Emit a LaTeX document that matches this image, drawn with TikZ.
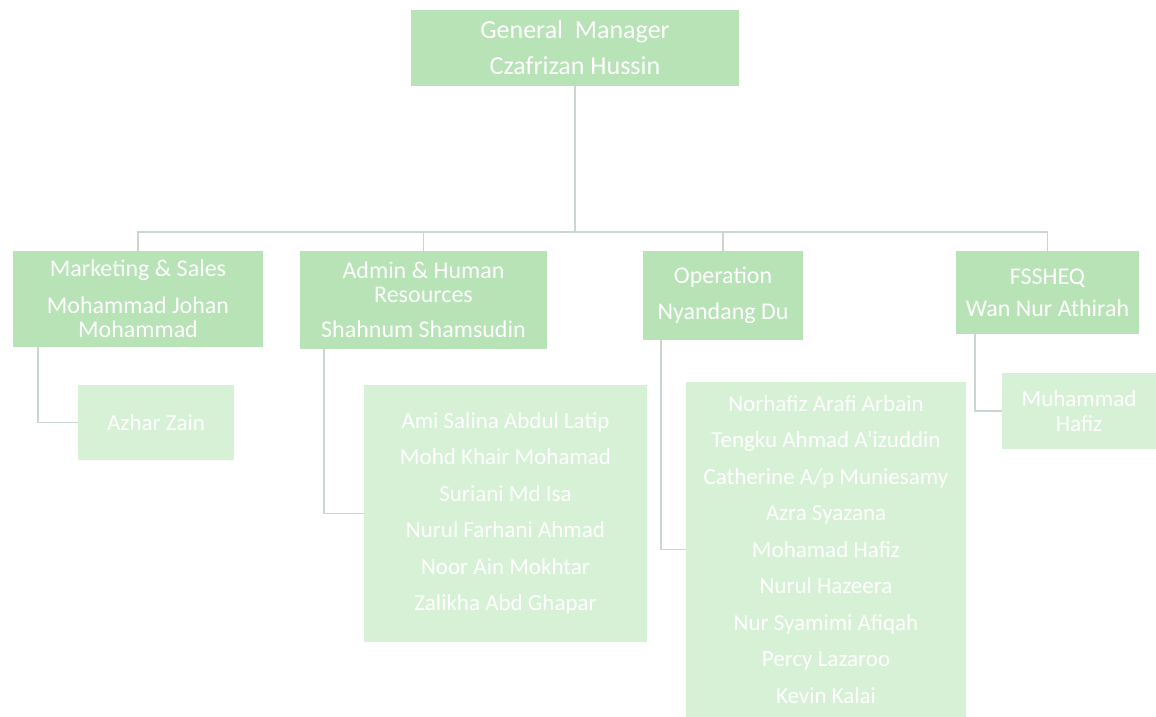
\documentclass[tikz,border=0pt]{standalone}
\usepackage{fontspec}
\setmainfont{Carlito}
\definecolor{topfill}{HTML}{B7E3B7}
\definecolor{stafffill}{HTML}{D6F1D6}
\definecolor{linkc}{HTML}{C9D7CE}
\begin{document}
\begin{tikzpicture}[x=1pt,y=-1pt,
  box/.style={draw=none, fill=topfill, text=white, inner sep=0pt, align=center,
    font=\fontsize{24}{24}\selectfont},
  staff/.style={box, fill=stafffill, font=\fontsize{23}{36.5}\selectfont},
  link/.style={draw=linkc, line width=1.2pt}]
\useasboundingbox (0,0) rectangle (1156,717);
\fill[white] (0,0) rectangle (1156,717);

\node[box, minimum width=328, minimum height=76, font=\fontsize{26}{26}\selectfont] (gm) at (575,48)
  {General~ Manager\\[10pt]Czafrizan Hussin};
\node[box, minimum width=250, minimum height=96] (mkt) at (138,299)
  {Marketing \& Sales\\[13pt]Mohammad Johan\\Mohammad};
\node[box, minimum width=247, minimum height=98] (adm) at (423.5,300)
  {Admin \& Human\\Resources\\[11pt]Shahnum Shamsudin};
\node[box, minimum width=160, minimum height=89] (op) at (723,295.5)
  {Operation\\[12pt]Nyandang Du};
\node[box, minimum width=183, minimum height=83] (fs) at (1047.5,292.5)
  {FSSHEQ\\[8pt]Wan Nur Athirah};

\node[staff, minimum width=156, minimum height=75] (azh) at (156,422.5) {Azhar Zain};
\node[staff, minimum width=283, minimum height=257] (admst) at (505.5,513.5)
  {Ami Salina Abdul Latip\\Mohd Khair Mohamad\\Suriani Md Isa\\Nurul Farhani Ahmad\\Noor Ain Mokhtar\\Zalikha Abd Ghapar};
\node[staff, minimum width=280, minimum height=335] (opst) at (826,549.5)
  {Norhafiz Arafi Arbain\\Tengku Ahmad A'izuddin\\Catherine A/p Muniesamy\\Azra Syazana\\Mohamad Hafiz\\Nurul Hazeera\\Nur Syamimi Afiqah\\Percy Lazaroo\\Kevin Kalai};
\node[staff, minimum width=154, minimum height=76, font=\fontsize{23}{25}\selectfont] (mh) at (1079,411)
  {Muhammad\\Hafiz};

\coordinate (busy) at (0,232);
\draw[link] (gm.south) -- (gm.south |- busy);
\draw[link] (mkt.north) |- (fs.north |- busy) -- (fs.north);
\draw[link] (adm.north) -- (adm.north |- busy);
\draw[link] (op.north) -- (op.north |- busy);

\coordinate (m1) at (38,347);
\coordinate (a1) at (324,349);
\coordinate (o1) at (661,340);
\coordinate (f1) at (975,334);
\draw[link] (m1) |- (azh.west);
\draw[link] (a1) |- (admst.west);
\draw[link] (o1) |- (opst.west);
\draw[link] (f1) |- (mh.west);
\end{tikzpicture}
\end{document}
